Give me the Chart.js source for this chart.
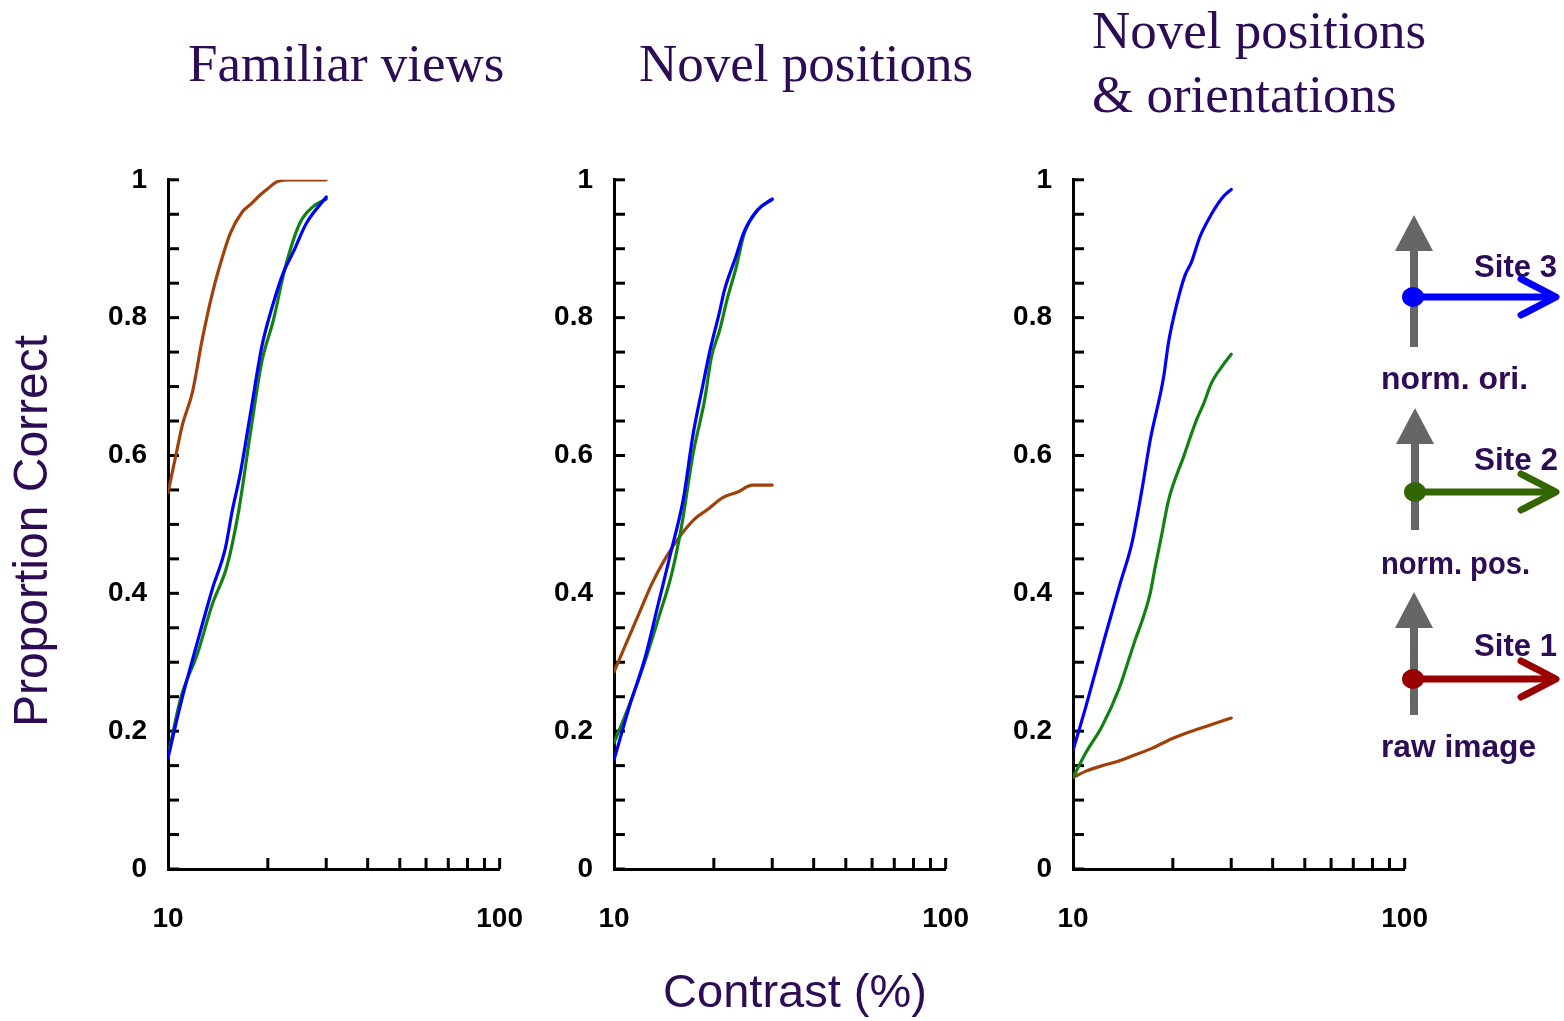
<!DOCTYPE html>
<html>
<head>
<meta charset="utf-8">
<script src="https://cdn.jsdelivr.net/npm/chart.js@4/dist/chart.umd.min.js"></script>
<style>
  html, body { margin: 0; padding: 0; background: #fff; }
  #page { position: relative; width: 1564px; height: 1021px; overflow: hidden; background: #fff; }
  canvas.panel { position: absolute; top: 142px; }
  #overlay { position: absolute; left: 0; top: 0; pointer-events: none; }
</style>
</head>
<body>
<div id="page">
  <canvas id="c1" class="panel" width="468" height="807" style="left:88px"></canvas>
  <canvas id="c2" class="panel" width="468" height="807" style="left:534px"></canvas>
  <canvas id="c3" class="panel" width="468" height="807" style="left:993px"></canvas>
  <svg id="overlay" width="1564" height="1021" xmlns="http://www.w3.org/2000/svg">
    <g font-family="'Liberation Serif','Times New Roman',serif" font-size="53" fill="#2d0b55">
      <text x="188" y="81">Familiar views</text>
      <text x="639" y="81">Novel positions</text>
      <text x="1092" y="48">Novel positions</text>
      <text x="1092" y="112">&amp; orientations</text>
    </g>
    <g font-family="'Liberation Sans',Arial,sans-serif" font-size="47" fill="#2d0b55">
      <text x="795" y="1007" text-anchor="middle">Contrast (%)</text>
      <text transform="translate(47,531) rotate(-90)" text-anchor="middle" font-size="48">Proportion Correct</text>
    </g>
    <g font-family="'Liberation Sans',Arial,sans-serif" font-size="31" font-weight="bold" fill="#2d0b55">
      <text x="1474" y="277" textLength="83" lengthAdjust="spacingAndGlyphs">Site 3</text>
      <text x="1381" y="389" textLength="147" lengthAdjust="spacingAndGlyphs">norm. ori.</text>
      <text x="1474" y="470" textLength="84" lengthAdjust="spacingAndGlyphs">Site 2</text>
      <text x="1381" y="574" textLength="149" lengthAdjust="spacingAndGlyphs">norm. pos.</text>
      <text x="1474" y="656" textLength="83" lengthAdjust="spacingAndGlyphs">Site 1</text>
      <text x="1381" y="757" textLength="155" lengthAdjust="spacingAndGlyphs">raw image</text>
    </g>
    <!-- Site 3 -->
    <g>
      <line x1="1414" y1="347" x2="1414" y2="248" stroke="#666" stroke-width="8"/>
      <polygon points="1414,215 1395,251 1433,251" fill="#666"/>
      <line x1="1413" y1="297" x2="1554" y2="297" stroke="#0000ff" stroke-width="7"/>
      <polyline points="1521,279 1556,297 1521,315" fill="none" stroke="#0000ff" stroke-width="7" stroke-linecap="round" stroke-linejoin="round"/>
      <ellipse cx="1413" cy="297" rx="11" ry="10" fill="#0000ff"/>
    </g>
    <!-- Site 2 -->
    <g>
      <line x1="1415" y1="530" x2="1415" y2="441" stroke="#666" stroke-width="8"/>
      <polygon points="1415,408 1396,444 1434,444" fill="#666"/>
      <line x1="1415" y1="492" x2="1554" y2="492" stroke="#336600" stroke-width="7"/>
      <polyline points="1521,474 1556,492 1521,510" fill="none" stroke="#336600" stroke-width="7" stroke-linecap="round" stroke-linejoin="round"/>
      <ellipse cx="1415" cy="492" rx="11" ry="10" fill="#336600"/>
    </g>
    <!-- Site 1 -->
    <g>
      <line x1="1414" y1="715" x2="1414" y2="626" stroke="#666" stroke-width="8"/>
      <polygon points="1414,592 1395,628 1433,628" fill="#666"/>
      <line x1="1413" y1="679" x2="1554" y2="679" stroke="#990000" stroke-width="7"/>
      <polyline points="1521,661 1556,679 1521,697" fill="none" stroke="#990000" stroke-width="7" stroke-linecap="round" stroke-linejoin="round"/>
      <ellipse cx="1413" cy="679" rx="11" ry="10" fill="#990000"/>
    </g>
  </svg>
</div>
<script>
// ---------- Data (contrast %, proportion correct) ----------
// Panel 1: Familiar views
const famRawX = [10, 10.57, 11.06, 11.85, 12.69, 13.6, 14.57, 15.43, 16.72, 17.7, 18.96, 19.85, 21.27, 22.78, 30];
const famRawY = [0.546, 0.601, 0.645, 0.692, 0.769, 0.835, 0.887, 0.923, 0.953, 0.964, 0.978, 0.986, 0.997, 1.0, 1.0];
const famPosX = [10, 10.94, 12.26, 13.6, 15.07, 16.34, 17.7, 19.18, 20.78, 22.52, 24.97, 27.37, 30];
const famPosY = [0.164, 0.249, 0.312, 0.384, 0.44, 0.52, 0.631, 0.736, 0.796, 0.871, 0.937, 0.961, 0.972];
const famOriX = [10, 10.94, 12.26, 13.6, 14.9, 15.61, 16.52, 17.7, 19.18, 20.54, 22.26, 23.85, 26.14, 30];
const famOriY = [0.161, 0.241, 0.329, 0.406, 0.466, 0.519, 0.574, 0.659, 0.758, 0.813, 0.865, 0.895, 0.937, 0.975];

// Panel 2: Novel positions
const posRawX = [10, 11.08, 12.15, 13.01, 14.26, 15.81, 17.52, 19.19, 21.28, 23.59, 26.14, 30];
const posRawY = [0.286, 0.336, 0.381, 0.414, 0.45, 0.483, 0.508, 0.522, 0.539, 0.547, 0.557, 0.557];
const posPosX = [10, 11.08, 12.43, 13.62, 14.92, 15.98, 17.32, 18.77, 19.65, 20.8, 22.03, 23.33, 24.7, 27.08, 30];
const posPosY = [0.183, 0.236, 0.303, 0.364, 0.428, 0.497, 0.603, 0.681, 0.742, 0.781, 0.83, 0.872, 0.922, 0.956, 0.972];
const posOriX = [10, 11.08, 12.43, 13.62, 14.92, 16.17, 17.32, 18.55, 19.42, 20.8, 21.53, 23.33, 24.7, 27.08, 30];
const posOriY = [0.158, 0.233, 0.308, 0.386, 0.464, 0.536, 0.631, 0.703, 0.75, 0.808, 0.84, 0.889, 0.925, 0.956, 0.972];

// Panel 3: Novel positions & orientations
const oriRawX = [10, 10.94, 12.26, 13.6, 15.07, 17.3, 19.86, 22.78, 25.55, 30];
const oriRawY = [0.133, 0.142, 0.15, 0.156, 0.164, 0.175, 0.189, 0.2, 0.208, 0.219];
const oriPosX = [10, 10.94, 12.26, 13.75, 15.39, 16.31, 17.09, 17.69, 18.53, 19.41, 21.54, 23.64, 24.76, 26.14, 28.32, 30];
const oriPosY = [0.133, 0.169, 0.208, 0.261, 0.332, 0.366, 0.40, 0.438, 0.486, 0.535, 0.598, 0.653, 0.675, 0.705, 0.731, 0.747];
const oriOriX = [10, 10.94, 12.49, 13.87, 15.04, 16.12, 17.09, 18.75, 19.41, 20.54, 21.75, 22.78, 24.13, 26.14, 28.32, 30];
const oriOriY = [0.172, 0.236, 0.337, 0.414, 0.472, 0.549, 0.622, 0.713, 0.764, 0.819, 0.861, 0.881, 0.917, 0.95, 0.975, 0.986];

// Axis tick values / labels
const xTickValues = [10, 20, 30, 40, 50, 60, 70, 80, 90, 100];
const xLabelValues = [10, 100];
const yLabelValues = [0, 0.2, 0.4, 0.6, 0.8, 1];

const colRaw = '#a0400a';
const colPos = '#128212';
const colOri = '#0000ff';

function pts(xs, ys) { return xs.map((x, i) => ({ x: x, y: ys[i] })); }

const innerTicks = {
  id: 'innerTicks',
  beforeDatasetsDraw(chart) {
    const { ctx, chartArea: a, scales: { x, y } } = chart;
    ctx.save();
    ctx.strokeStyle = '#000';
    ctx.lineWidth = 3;
    y.ticks.forEach(t => {
      const py = y.getPixelForValue(t.value);
      ctx.beginPath(); ctx.moveTo(a.left, py); ctx.lineTo(a.left + 11, py); ctx.stroke();
    });
    x.ticks.forEach(t => {
      if (t.value <= x.min + 1e-9) return;
      const px = x.getPixelForValue(t.value);
      ctx.beginPath(); ctx.moveTo(px, a.bottom); ctx.lineTo(px, a.bottom - 11); ctx.stroke();
    });
    ctx.restore();
  }
};

const tickFont = { family: "'Liberation Sans', Arial, sans-serif", size: 28, weight: 'bold' };

function makePanel(id, raw, pos, ori) {
  new Chart(document.getElementById(id), {
    type: 'line',
    data: {
      datasets: [
        { data: ori, borderColor: colOri },
        { data: pos, borderColor: colPos },
        { data: raw, borderColor: colRaw }
      ]
    },
    options: {
      responsive: false,
      animation: false,
      devicePixelRatio: 1,
      layout: { padding: { left: 0, top: 21, right: 27, bottom: 0 } },
      plugins: { legend: { display: false }, tooltip: { enabled: false }, title: { display: false } },
      elements: { point: { radius: 0 }, line: { borderWidth: 3.2, cubicInterpolationMode: 'monotone', fill: false, borderJoinStyle: 'round', borderCapStyle: 'round' } },
      scales: {
        x: {
          type: 'logarithmic', min: 10, max: 100, position: 'bottom',
          border: { display: true, color: '#000', width: 3 },
          grid: { display: true, drawOnChartArea: false, drawTicks: false },
          afterBuildTicks: (s) => { s.ticks = xTickValues.map(v => ({ value: v })); },
          ticks: {
            autoSkip: false, maxRotation: 0, minRotation: 0, padding: 33, color: '#000', font: tickFont,
            callback: (v) => xLabelValues.some(l => Math.abs(l - v) < 1e-6) ? String(v) : ''
          },
          afterFit: (s) => { s.height = 80; }
        },
        y: {
          type: 'linear', min: 0, max: 1, position: 'left',
          border: { display: true, color: '#000', width: 3 },
          grid: { display: true, drawOnChartArea: false, drawTicks: false },
          ticks: {
            stepSize: 0.05, autoSkip: false, padding: 21, color: '#000', font: tickFont,
            callback: (v) => {
              const m = yLabelValues.find(l => Math.abs(l - v) < 1e-6);
              if (m === undefined) return '';
              return (m === 0 || m === 1) ? String(m) : m.toFixed(1);
            }
          },
          afterFit: (s) => { s.width = 80; }
        }
      }
    },
    plugins: [innerTicks]
  });
}

makePanel('c1', pts(famRawX, famRawY), pts(famPosX, famPosY), pts(famOriX, famOriY));
makePanel('c2', pts(posRawX, posRawY), pts(posPosX, posPosY), pts(posOriX, posOriY));
makePanel('c3', pts(oriRawX, oriRawY), pts(oriPosX, oriPosY), pts(oriOriX, oriOriY));
</script>
</body>
</html>
